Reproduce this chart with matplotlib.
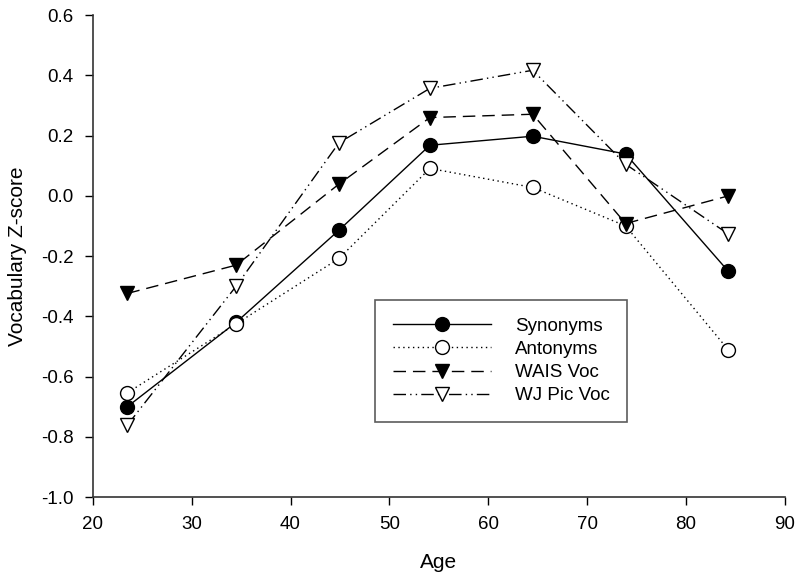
import matplotlib
matplotlib.use("Agg")
import matplotlib.pyplot as plt

plt.rcParams.update({
    "font.family": ["Liberation Sans", "DejaVu Sans"],
    "font.size": 12,
})

ages = [23.5, 34.5, 44.9, 54.1, 64.5, 73.9, 84.3]
synonyms = [-0.70, -0.42, -0.114, 0.168, 0.198, 0.139, -0.251]
antonyms = [-0.654, -0.425, -0.208, 0.091, 0.028, -0.100, -0.512]
wais_voc = [-0.324, -0.23, 0.039, 0.26, 0.271, -0.092, 0.0]
wj_pic_voc = [-0.761, -0.30, 0.176, 0.357, 0.417, 0.105, -0.127]

fig = plt.figure(figsize=(8, 5.83), dpi=100)
ax = fig.add_axes([0.116, 0.1475, 0.865, 0.8265])

ms = 10
ax.plot(ages, synonyms, color="black", linewidth=1, linestyle="-",
        marker="o", markersize=ms, markerfacecolor="black",
        markeredgecolor="black", label="Synonyms")
ax.plot(ages, antonyms, color="black", linewidth=1, linestyle=(0, (1, 2.5)),
        marker="o", markersize=ms, markerfacecolor="white",
        markeredgecolor="black", label="Antonyms")
ax.plot(ages, wais_voc, color="black", linewidth=1, linestyle=(0, (9, 5)),
        marker="v", markersize=ms, markerfacecolor="black",
        markeredgecolor="black", label="WAIS Voc")
ax.plot(ages, wj_pic_voc, color="black", linewidth=1,
        linestyle=(0, (9, 3, 1, 3, 1, 3)),
        marker="v", markersize=ms, markerfacecolor="white",
        markeredgecolor="black", label="WJ Pic Voc")

ax.set_xlim(20, 90)
ax.set_ylim(-1.0, 0.6)
ax.set_xticks(range(20, 91, 10))
ax.set_yticks([-1.0, -0.8, -0.6, -0.4, -0.2, 0.0, 0.2, 0.4, 0.6])
ax.set_yticklabels([f"{v:.1f}" for v in ax.get_yticks()])
ax.spines["top"].set_visible(False)
ax.spines["right"].set_visible(False)
for s in ("left", "bottom"):
    ax.spines[s].set_linewidth(1.2)
    ax.spines[s].set_color("#333333")
ax.tick_params(direction="out", length=6, width=1, labelsize=13.5, pad=8)

ax.set_xlabel("Age", fontsize=15, labelpad=14)
ax.set_ylabel("Vocabulary Z-score", fontsize=15, labelpad=10)

leg = ax.legend(loc="lower left", bbox_to_anchor=(0.469, 0.276, 0.315, 0.211),
                bbox_transform=fig.transFigure, mode="expand",
                borderaxespad=0, frameon=True, fancybox=False,
                handlelength=5.2, handletextpad=1.33, fontsize=13.5,
                borderpad=0.95, labelspacing=0.32)
leg.get_frame().set_edgecolor("#333333")
leg.get_frame().set_linewidth(1.2)

fig.savefig("out.png", dpi=100)
